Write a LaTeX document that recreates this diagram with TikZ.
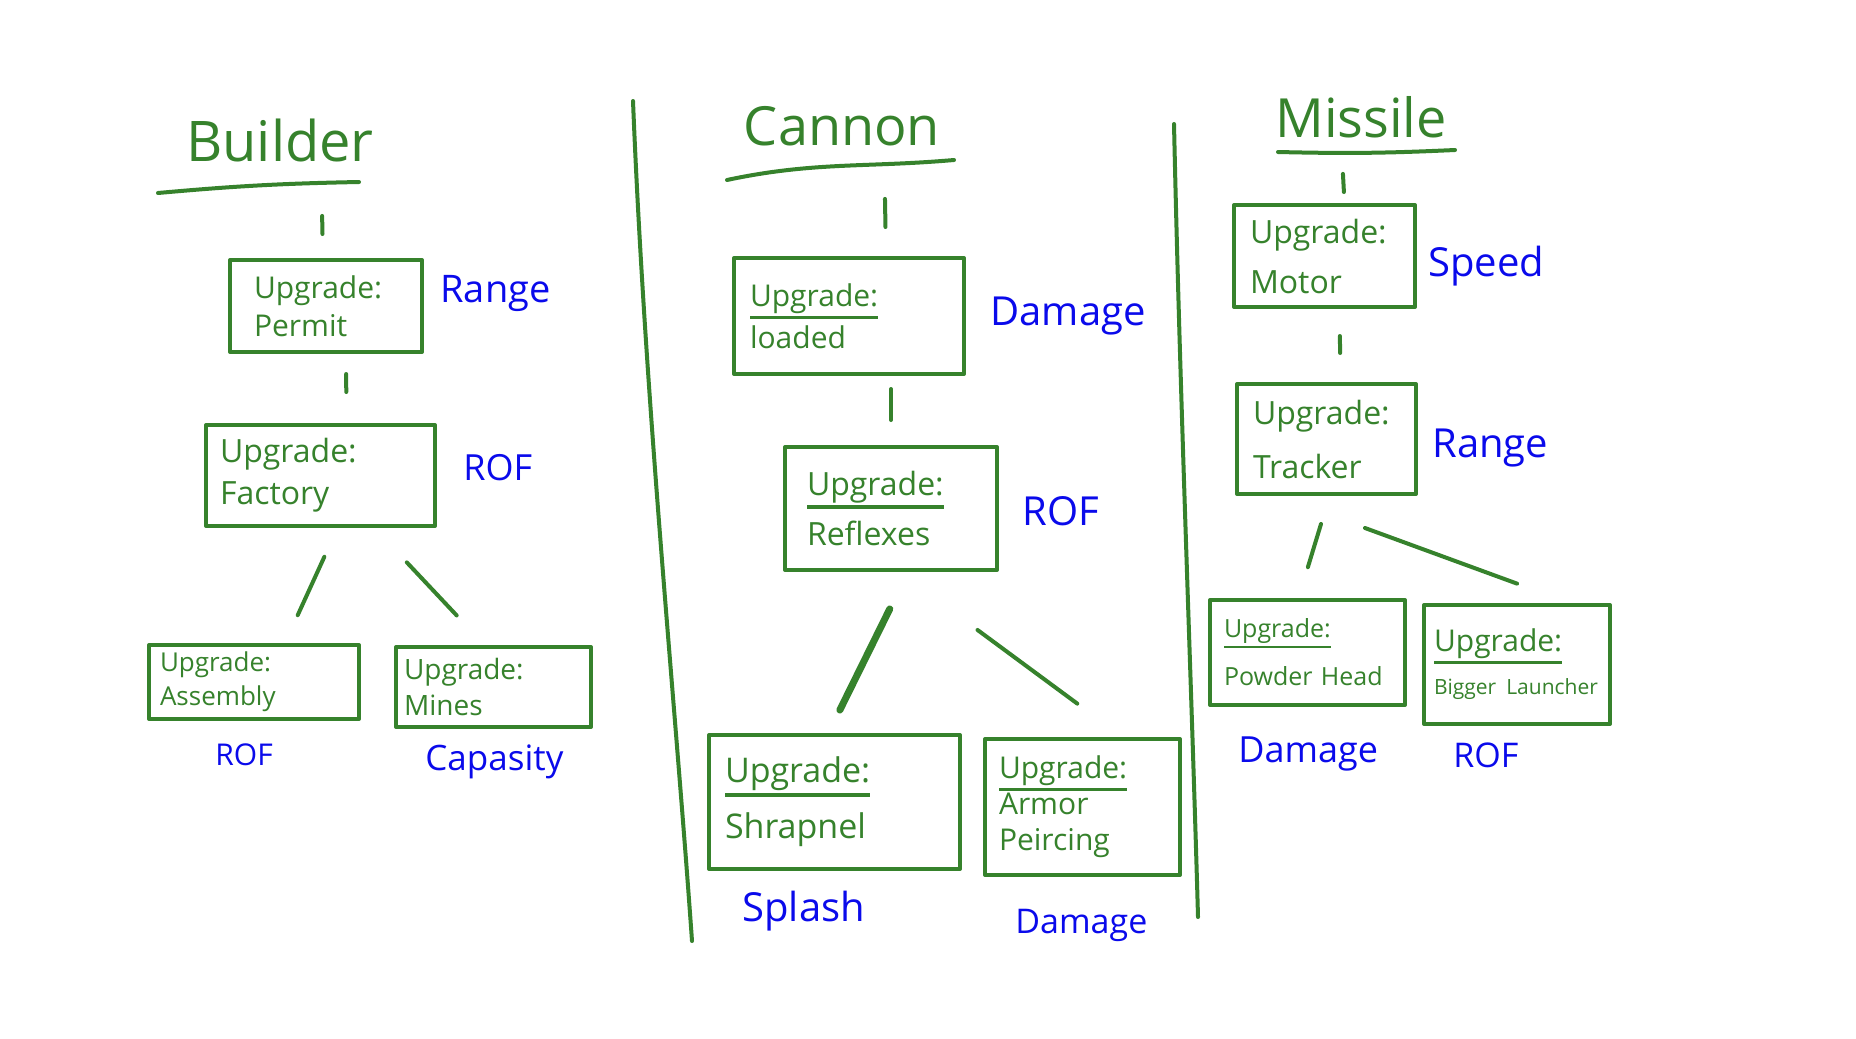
\documentclass[tikz,border=0pt]{standalone}
\usepackage{fontspec}
\setmainfont{Open Sans}
\usetikzlibrary{positioning}
\definecolor{inkgreen}{RGB}{54,130,44}
\definecolor{inkblue}{RGB}{10,10,235}
\newlength\ulwd
\newcommand\undr[1]{\settowidth\ulwd{#1}\rlap{\rule[-0.42em]{\ulwd}{0.11em}}#1}

\tikzset{
  ink/.style={draw=inkgreen, line width=2pt, line cap=round, line join=round},
  link/.style={ink},
  upbox/.style={ink, text=inkgreen, align=left, anchor=north west, inner ysep=0pt},
  heading/.style={text=inkgreen, anchor=base, inner sep=0pt},
  perk/.style={text=inkblue, anchor=base west, inner sep=0pt},
}

\begin{document}
\begin{tikzpicture}[x=0.5pt,y=-0.5pt]
  \path[fill=white, use as bounding box] (0,0) rectangle (1856,1038);

  % column dividers
  \draw[ink] (633,101) .. controls (645,400) and (675,700) .. (692,941);
  \draw[ink] (1174,124) .. controls (1180,400) and (1192,700) .. (1198,917);

  % Builder column
  \node[heading, font=\fontsize{28}{30}\selectfont] (builder) at (280,162) {Builder};
  \node[upbox, inner xsep=12pt, text width=72pt, minimum height=46pt, font=\fontsize{15}{19}\selectfont] (permit) at (228,258) {Upgrade:\\Permit};
  \node[upbox, inner xsep=7pt, text width=100.5pt, minimum height=50.5pt, font=\fontsize{16}{21}\selectfont] (factory) at (204,423) {Upgrade:\\Factory};
  \node[upbox, inner xsep=5.5pt, text width=94pt, minimum height=37pt, font=\fontsize{13}{17}\selectfont] (assembly) at (147,643) {Upgrade:\\Assembly};
  \node[upbox, inner xsep=4pt, text width=89.5pt, minimum height=40pt, font=\fontsize{14}{18}\selectfont] (mines) at (394,645) {Upgrade:\\Mines};
  \node[perk, font=\fontsize{19}{19}\selectfont] (s_permit) at (440,302) {Range};
  \node[perk, font=\fontsize{18}{18}\selectfont] (s_factory) at (463,480) {ROF};
  \node[perk, font=\fontsize{15}{15}\selectfont] (s_assembly) at (215,765) {ROF};
  \node[perk, font=\fontsize{17.5}{18}\selectfont] (s_mines) at (425,770) {Capasity};

  % Cannon column
  \node[heading, font=\fontsize{27}{30}\selectfont] (cannon) at (842,145) {Cannon};
  \node[upbox, inner xsep=8pt, text width=99pt, minimum height=58pt, font=\fontsize{15}{21}\selectfont] (loaded) at (732,256) {\undr{Upgrade:}\\loaded};
  \node[upbox, inner xsep=11pt, text width=84pt, minimum height=61.5pt, font=\fontsize{16}{25}\selectfont] (reflexes) at (783,445) {\undr{Upgrade:}\\Reflexes};
  \node[upbox, inner xsep=8pt, text width=109.5pt, minimum height=67pt, font=\fontsize{17}{28}\selectfont] (shrapnel) at (707,733) {\undr{Upgrade:}\\Shrapnel};
  \node[upbox, inner xsep=7pt, text width=83.5pt, minimum height=68pt, font=\fontsize{15}{18}\selectfont] (piercing) at (983,737) {\undr{Upgrade:}\\Armor\\Peircing};
  \node[perk, font=\fontsize{20}{20}\selectfont] (s_loaded) at (990,325) {Damage};
  \node[perk, font=\fontsize{20}{20}\selectfont] (s_reflexes) at (1022,525) {ROF};
  \node[perk, font=\fontsize{20}{20}\selectfont] (s_shrapnel) at (742,921) {Splash};
  \node[perk, font=\fontsize{17}{17}\selectfont] (s_piercing) at (1015,933) {Damage};

  % Missile column
  \node[heading, font=\fontsize{27}{30}\selectfont] (missile) at (1361,137) {Missile};
  \node[upbox, inner xsep=8pt, text width=74.5pt, minimum height=51pt, font=\fontsize{16}{25}\selectfont] (motor) at (1232,203) {Upgrade:\\Motor};
  \node[upbox, inner xsep=8pt, text width=73.5pt, minimum height=55pt, font=\fontsize{16}{27}\selectfont] (tracker) at (1235,382) {Upgrade:\\Tracker};
  \node[upbox, inner xsep=7pt, text width=83.5pt, minimum height=52.5pt, font=\fontsize{12.5}{24}\selectfont] (powder) at (1208,598) {\undr{Upgrade:}\\\mbox{Powder Head}};
  \node[upbox, inner xsep=5pt, text width=83pt, minimum height=59.5pt, font=\fontsize{15}{21.5}\selectfont] (launcher) at (1422,603) {\undr{Upgrade:}\\\mbox{\fontsize{10.5}{21.5}\selectfont Bigger Launcher}};
  \node[perk, font=\fontsize{20}{20}\selectfont] (s_motor) at (1428,276) {Speed};
  \node[perk, font=\fontsize{20}{20}\selectfont] (s_tracker) at (1432,457) {Range};
  \node[perk, font=\fontsize{18}{18}\selectfont] (s_powder) at (1238,762) {Damage};
  \node[perk, font=\fontsize{17}{17}\selectfont] (s_launcher) at (1453,767) {ROF};

  % title underlines
  \draw[ink] ([xshift=-61pt,yshift=-15.5pt]builder.base) to[bend left=2] ([xshift=39.5pt,yshift=-10pt]builder.base);
  \draw[ink] ([xshift=-57.5pt,yshift=-17.5pt]cannon.base) to[out=12,in=185] ([xshift=56pt,yshift=-7.5pt]cannon.base);
  \draw[ink] ([xshift=-41.5pt,yshift=-7.5pt]missile.base) to[bend right=2] ([xshift=47pt,yshift=-6.5pt]missile.base);

  % builder tree
  \draw[link, shorten <=26.5pt, shorten >=12pt] ([xshift=20.5pt]builder.south) -- ([xshift=-1.5pt]permit.north);
  \draw[link, shorten <=10pt, shorten >=15.5pt] ([xshift=10pt]permit.south) -- ([xshift=13pt]factory.north);
  \draw[link, shorten <=15.8pt, shorten >=15.3pt] ([xshift=8.5pt]factory.south) -- ([xshift=15.5pt]assembly.north);
  \draw[link, shorten <=23.6pt, shorten >=20.3pt] ([xshift=27pt]factory.south) -- ([xshift=-4.5pt]mines.north);

  % cannon tree
  \draw[link, shorten <=26.5pt, shorten >=14.5pt] ([xshift=21pt]cannon.south) -- ([xshift=18.5pt]loaded.north);
  \draw[link, shorten <=6.5pt, shorten >=12.5pt] ([xshift=21pt]loaded.south) -- (reflexes.north);
  \draw[link, line width=3.5pt, shorten <=20.6pt, shorten >=12.8pt] ([xshift=8.5pt]reflexes.south) -- ([xshift=-3pt]shrapnel.north);
  \draw[link, shorten <=48.8pt, shorten >=28.1pt] ([xshift=4pt]reflexes.south) -- ([xshift=20pt]piercing.north);

  % missile tree
  \draw[link, shorten <=18pt, shorten >=5.5pt] ([xshift=-10pt]missile.south) -- ([xshift=10pt]motor.north);
  \draw[link, shorten <=13.5pt, shorten >=14.5pt] ([xshift=7.5pt]motor.south) -- ([xshift=7pt]tracker.north);
  \draw[link, shorten <=14.6pt, shorten >=16.1pt] ([xshift=1.5pt]tracker.south) -- ([xshift=-4.5pt]powder.north);
  \draw[link, shorten <=46.6pt, shorten >=28.2pt] ([xshift=-24.5pt]tracker.south) -- ([xshift=26.5pt]launcher.north);
\end{tikzpicture}
\end{document}
